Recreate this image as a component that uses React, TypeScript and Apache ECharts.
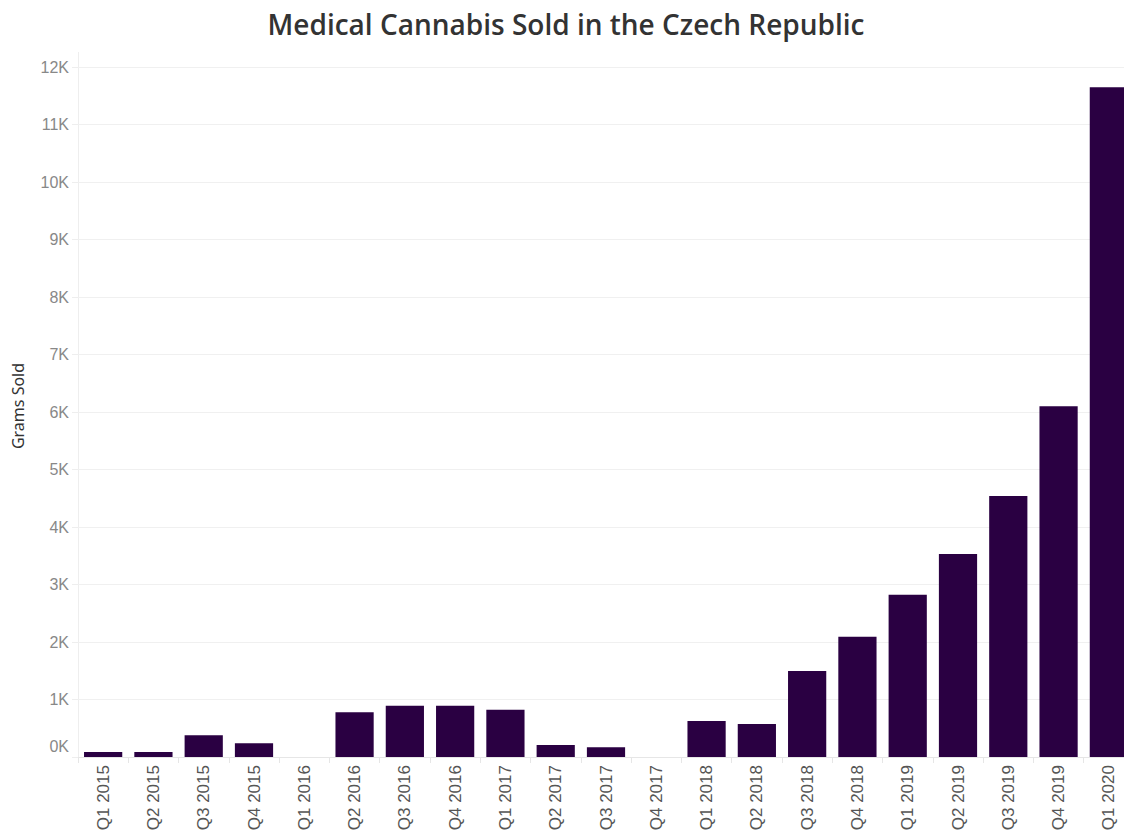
import React, { useEffect, useRef } from "react";
import * as echarts from "echarts";

const quarters = [
  "Q1 2015", "Q2 2015", "Q3 2015", "Q4 2015",
  "Q1 2016", "Q2 2016", "Q3 2016", "Q4 2016",
  "Q1 2017", "Q2 2017", "Q3 2017", "Q4 2017",
  "Q1 2018", "Q2 2018", "Q3 2018", "Q4 2018",
  "Q1 2019", "Q2 2019", "Q3 2019", "Q4 2019",
  "Q1 2020",
];
const gramsSold = [
  85, 85, 380, 240,
  0, 780, 890, 890,
  820, 210, 170, 0,
  625, 575, 1495, 2090,
  2820, 3530, 4540, 6100,
  11650,
];
const titleText = "Medical Cannabis Sold in the Czech Republic";
const yAxisName = "Grams Sold";
const yMin = 0;
const yMax = 12000;
const yInterval = 1000;

export default function App() {
  const ref = useRef<HTMLDivElement>(null);
  useEffect(() => {
    if (!ref.current) return;
    const chart = echarts.init(ref.current, null, { renderer: "svg" });
    chart.setOption({
      animation: false,
      backgroundColor: "#ffffff",
      grid: { left: 78, right: 8, top: 67, bottom: 79, containLabel: false },
      xAxis: {
        type: "category",
        data: quarters,
        axisLine: { show: true, lineStyle: { color: "#e6e6e6", width: 1 } },
        axisTick: { show: true, length: 6, lineStyle: { color: "#e6e6e6" } },
        axisLabel: {
          rotate: 90,
          interval: 0,
          margin: 8,
          color: "#555555",
          fontSize: 17,
          fontFamily: "Liberation Sans",
        },
      },
      yAxis: {
        type: "value",
        min: yMin,
        max: yMax,
        interval: yInterval,
        axisLine: { show: false },
        axisTick: { show: true, length: 6, lineStyle: { color: "#eeeeee" } },
        splitLine: { show: true, lineStyle: { color: "#f0f0f0", width: 1 } },
        axisLabel: {
          color: "#888888",
          fontSize: 16,
          fontFamily: "Liberation Sans",
          margin: 9,
          formatter: (v: number) =>
            v === 0 ? "{z|0K}" : v / 1000 + "K",
          rich: {
            z: {
              color: "#888888",
              fontSize: 16,
              fontFamily: "Liberation Sans",
              padding: [0, 0, 22, 0],
            },
          },
        },
      },
      graphic: [
        {
          type: "text",
          x: 566,
          y: 24,
          style: {
            text: titleText,
            fill: "#333333",
            fontSize: 28,
            fontWeight: 600,
            fontFamily: "Open Sans",
            align: "center",
            verticalAlign: "middle",
          },
        },
        {
          type: "line",
          shape: { x1: 78.5, y1: 52, x2: 78.5, y2: 763 },
          style: { stroke: "#eeeeee", lineWidth: 1 },
          z: 0,
        },
        {
          type: "text",
          x: 18,
          y: 406,
          rotation: Math.PI / 2,
          style: {
            text: yAxisName,
            fill: "#333333",
            fontSize: 16,
            fontFamily: "Noto Sans",
            align: "center",
            verticalAlign: "middle",
          },
        },
      ],
      series: [
        {
          type: "bar",
          data: gramsSold,
          barCategoryGap: "24%",
          itemStyle: { color: "#2a0042" },
        },
      ],
    });
    return () => chart.dispose();
  }, []);
  return (
    <div
      style={{
        position: "absolute",
        left: 0,
        top: 0,
        width: 1124,
        height: 836,
        overflow: "hidden",
      }}
    >
      <div ref={ref} style={{ width: 1142, height: 836 }} />
    </div>
  );
}
